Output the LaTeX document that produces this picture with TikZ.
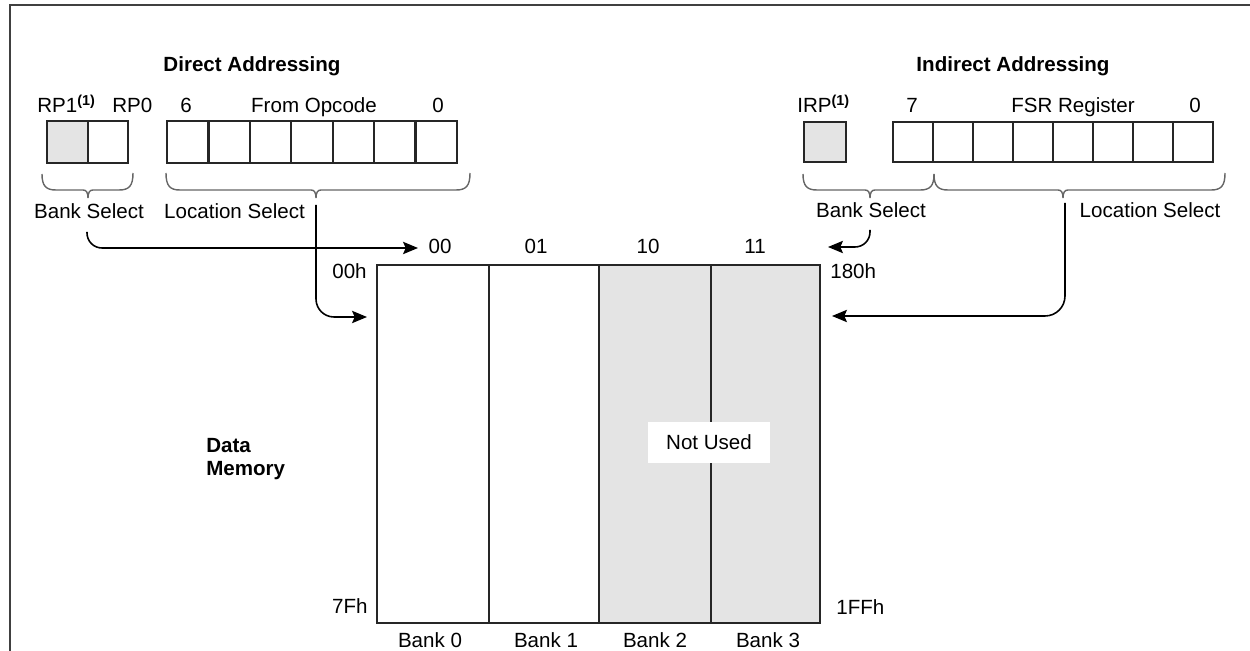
\documentclass[tikz,border=0pt]{standalone}
\usepackage{fontspec}
\setmainfont{Liberation Sans}
\usetikzlibrary{arrows.meta}
\definecolor{cellgray}{HTML}{E4E4E4}
\begin{document}
\begin{tikzpicture}[x=0.02cm,y=-0.02cm,
  every node/.style={inner sep=0pt, font=\fontsize{11.7}{14}\selectfont},
  txt/.style={anchor=base},
  ttl/.style={anchor=base, font=\fontsize{11.7}{14}\selectfont\bfseries},
  cellline/.style={line width=1.3pt, draw=black!85},
  brc/.style={line width=0.8pt, draw=black!60},
  feed/.style={line width=0.9pt, rounded corners=#1, -{Stealth[length=8.5pt,width=7pt,inset=1.5pt]}},
  feed/.default=0.3cm]
\useasboundingbox (0,0) rectangle (1250,651);

% page frame (top and left rules)
\draw[line width=1.3pt, black!75] (10,651) -- (10,5) -- (1250,5);

% ---------- direct addressing ----------
\node[ttl] (dtitle) at (252,72) {Direct Addressing};
\node[txt, anchor=base west] (rp1) at (37,113) {RP1\textsuperscript{\bfseries(1)}};
\node[txt, anchor=base west] (rp0) at (112,113) {RP0};
\node[txt] (dsix) at (186,113) {6};
\node[txt] (opc) at (314,113) {From Opcode};
\node[txt] (dzero) at (438,113) {0};

\draw[cellline, fill=cellgray] (47,121) rectangle (88,163);
\draw[cellline] (88,121) rectangle (128,163);
\foreach \i in {0,...,6}
  \draw[cellline] ({167+\i*41.43},121) rectangle ({167+(\i+1)*41.43},163);

% braces under the direct fields
\draw[brc] (42,174) .. controls (42,186) and (46,190) .. (56,190) -- (83,190)
  .. controls (86,190) and (88,192) .. (88,198) .. controls (88,192) and (90,190) .. (93,190)
  -- (119,190) .. controls (129,190) and (133,186) .. (133,173);
\draw[brc] (166,173) .. controls (166,186) and (170,190) .. (180,190) -- (311,190)
  .. controls (314,190) and (316,192) .. (316,198) .. controls (316,192) and (318,190) .. (321,190)
  -- (456,190) .. controls (466,190) and (470,186) .. (470,173);

\node[txt] (dbank) at (89,219) {Bank Select};
\node[txt] (dloc) at (234.5,219) {Location Select};

% ---------- data memory ----------
\fill[cellgray] (599,265) rectangle (820,623);
\draw[cellline] (377,265) rectangle (820,623);
\foreach \x in {489,599,711}
  \draw[cellline] (\x,265) -- (\x,623);
\node[fill=white, minimum width=2.44cm, minimum height=0.82cm] (notused) at (709,442.5) {Not Used};

\node[txt] (b00) at (440,254) {00};
\node[txt] (b01) at (536,254) {01};
\node[txt] (b10) at (648,254) {10};
\node[txt] (b11) at (755,254) {11};
\node[txt, anchor=base east] (a00h) at (367,279) {00h};
\node[txt, anchor=base west] (a180h) at (830,279) {180h};
\node[txt, anchor=base east] (a7fh) at (368,613) {7Fh};
\node[txt, anchor=base west] (a1ffh) at (836,614) {1FFh};
\node[txt] (bank0) at (430,647) {Bank 0};
\node[txt] (bank1) at (546,647) {Bank 1};
\node[txt] (bank2) at (655,647) {Bank 2};
\node[txt] (bank3) at (768,647) {Bank 3};
\node[ttl, anchor=base west] (dm1) at (206,453) {Data};
\node[ttl, anchor=base west] (dm2) at (206,475) {Memory};

% ---------- indirect addressing ----------
\node[ttl] (ititle) at (1013,72) {Indirect Addressing};
\node[txt, anchor=base west] (irp) at (797,113) {IRP\textsuperscript{\bfseries(1)}};
\node[txt] (iseven) at (912,113) {7};
\node[txt] (fsr) at (1073,113) {FSR Register};
\node[txt] (izero) at (1195,113) {0};

\draw[cellline, fill=cellgray] (804,122) rectangle (846,162);
\foreach \i in {0,...,7}
  \draw[cellline] ({893+\i*40},122) rectangle ({893+(\i+1)*40},162);

\draw[brc] (803,174) .. controls (803,186) and (807,190) .. (817,190) -- (865,190)
  .. controls (868,190) and (870,192) .. (870,198) .. controls (870,192) and (872,190) .. (875,190)
  -- (920,190) .. controls (930,190) and (934,186) .. (934,174);
\draw[brc] (934,174) .. controls (934,186) and (938,190) .. (948,190) -- (1058,190)
  .. controls (1061,190) and (1063,192) .. (1063,198) .. controls (1063,192) and (1065,190) .. (1068,190)
  -- (1211,190) .. controls (1221,190) and (1225,186) .. (1225,173);

\node[txt] (ibank) at (871,218) {Bank Select};
\node[txt] (iloc) at (1150,218) {Location Select};

% ---------- connector end points ----------
\coordinate (dbankfrom) at (87,232);
\coordinate (dbankto) at (418,248);
\coordinate (dlocfrom) at (316,205);
\coordinate (dlocto) at (367,317);
\coordinate (ibankfrom) at (870,230);
\coordinate (ibankto) at (828,247);
\coordinate (ilocfrom) at (1065,203);
\coordinate (ilocto) at (832,316);

\draw[feed=0.3cm] (dbankfrom) |- (dbankto);
\draw[feed=0.36cm] (dlocfrom) |- (dlocto);
\draw[feed=0.3cm] (ibankfrom) |- (ibankto);
\draw[feed=0.4cm] (ilocfrom) |- (ilocto);
\end{tikzpicture}
\end{document}
